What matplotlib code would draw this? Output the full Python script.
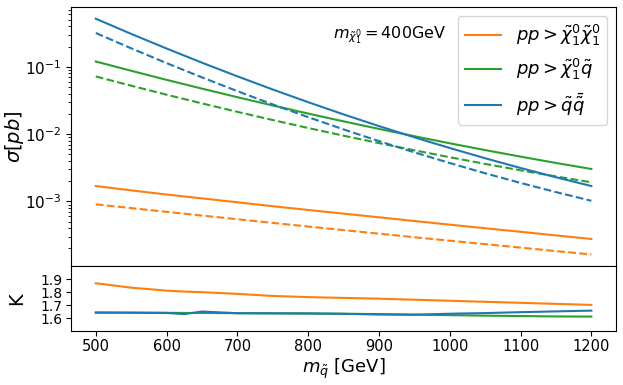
import matplotlib
matplotlib.use("Agg")
import matplotlib.pyplot as plt
import numpy as np

# squark masses [GeV]
mass = [500, 550, 600, 650, 700, 750, 800, 850, 900, 950, 1000, 1050, 1100, 1150, 1200]

# cross sections [pb] : NLO (solid) and LO (dashed)
xx_nlo = [1.693e-3, 1.461e-3, 1.267e-3, 1.111e-3, 9.71e-4, 8.49e-4, 7.47e-4, 6.59e-4,
          5.81e-4, 5.12e-4, 4.52e-4, 4.00e-4, 3.54e-4, 3.13e-4, 2.77e-4]
xx_lo = [9.06e-4, 7.96e-4, 7.00e-4, 6.17e-4, 5.44e-4, 4.80e-4, 4.24e-4, 3.75e-4,
         3.32e-4, 2.94e-4, 2.61e-4, 2.32e-4, 2.06e-4, 1.83e-4, 1.63e-4]

xq_nlo = [0.1199, 0.0873, 0.0640, 0.0474, 0.03536, 0.02661, 0.02020, 0.01547,
          0.01195, 0.00931, 0.00731, 0.00579, 0.00463, 0.00373, 0.003034]
xq_lo = [0.0718, 0.0524, 0.0385, 0.0286, 0.02142, 0.01618, 0.01233, 0.00948,
         0.00735, 0.00575, 0.00454, 0.00361, 0.00290, 0.002352, 0.001923]

qq_nlo = [0.518, 0.3084, 0.1869, 0.1151, 0.0722, 0.0460, 0.02981, 0.01964,
          0.01316, 0.00897, 0.00622, 0.00438, 0.00314, 0.002286, 0.001694]
qq_lo = [0.3177, 0.1882, 0.1135, 0.0697, 0.04347, 0.02762, 0.01786, 0.01175,
         0.00787, 0.00536, 0.00372, 0.00262, 0.001883, 0.001376, 0.001023]

# K factors
mass_k = [500, 550, 600, 625, 650, 700, 750, 800, 850, 900, 950, 1000, 1050, 1100, 1150, 1200]
k_xx = [1.869, 1.835, 1.812, 1.805, 1.800, 1.787, 1.771, 1.762, 1.756, 1.750, 1.742,
        1.734, 1.726, 1.718, 1.710, 1.702]
k_xq = [1.643, 1.642, 1.641, 1.640, 1.640, 1.638, 1.637, 1.636, 1.634, 1.631, 1.627,
        1.623, 1.619, 1.616, 1.613, 1.612]
k_qq = [1.643, 1.642, 1.640, 1.631, 1.651, 1.638, 1.637, 1.636, 1.633, 1.628, 1.626,
        1.634, 1.639, 1.646, 1.652, 1.658]

labels = [r"$pp > \tilde{\chi}_1^0\tilde{\chi}_1^0$",
          r"$pp > \tilde{\chi}_1^0\tilde{q}$",
          r"$pp > \tilde{q}\bar{\tilde{q}}$"]
colors = ["tab:orange", "tab:green", "tab:blue"]

fig = plt.figure(figsize=(6.23, 3.85), dpi=100)
gs = fig.add_gridspec(2, 1, height_ratios=[4, 1], hspace=0,
                      left=0.114, right=0.989, top=0.982, bottom=0.140)
ax = fig.add_subplot(gs[0])
axk = fig.add_subplot(gs[1], sharex=ax)

for nlo, lo, c, lab in zip([xx_nlo, xq_nlo, qq_nlo], [xx_lo, xq_lo, qq_lo], colors, labels):
    ax.plot(mass, nlo, color=c, lw=1.5, label=lab)
    ax.plot(mass, lo, color=c, lw=1.5, ls="--")

ax.set_yscale("log")
ax.set_ylabel(r"$\sigma[pb]$", fontsize=14)
ax.yaxis.set_label_coords(-0.082, 0.5)
ax.tick_params(axis="y", labelsize=11)
ax.tick_params(axis="x", labelbottom=False)
ax.legend(loc="upper right", fontsize=13)
ax.text(0.48, 0.892, r"$m_{\tilde{\chi}_1^0}=$400GeV", transform=ax.transAxes,
        fontsize=11.5, va="center", ha="left")

for k, c in zip([k_xx, k_xq, k_qq], colors):
    axk.plot(mass_k, k, color=c, lw=1.5)
axk.set_ylim(1.5, 2.0)
axk.set_yticks([1.6, 1.7, 1.8, 1.9])
axk.set_ylabel("K", fontsize=14)
axk.yaxis.set_label_coords(-0.082, 0.5)
axk.set_xlabel(r"$m_{\tilde{q}}$ [GeV]", fontsize=13)
axk.xaxis.labelpad = 2
axk.tick_params(axis="y", labelsize=10, pad=2.5)
axk.tick_params(axis="x", labelsize=10.5, pad=2.5)
axk.set_xticks([500, 600, 700, 800, 900, 1000, 1100, 1200])

fig.savefig("out.png", dpi=100)
